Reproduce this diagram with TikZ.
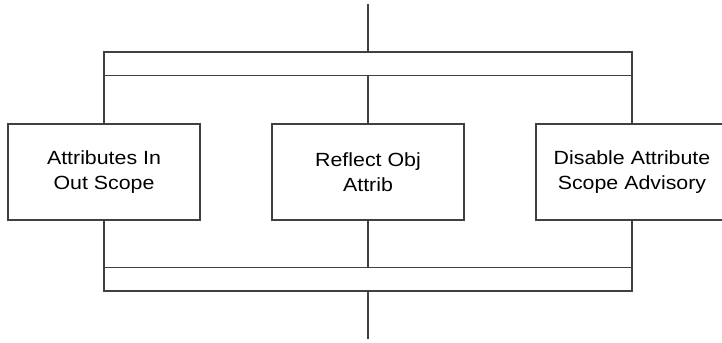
\documentclass[tikz,border=0pt]{standalone}
\usepackage{fontspec}
\setmainfont{Liberation Sans}
\newfontfamily\boxfont[FakeStretch=1.12]{Liberation Sans}
\definecolor{linec}{HTML}{404040}
\tikzset{
  wire/.style={draw=linec, line width=0.8pt},
  stepbox/.style={draw=linec, line width=0.8pt, minimum width=144pt, minimum height=72pt,
    inner sep=0pt, align=center, font=\boxfont\fontsize{14.3}{18.75}\selectfont},
  barbox/.style={draw=linec, line width=0.8pt, minimum width=396pt, minimum height=17.6pt, inner sep=0pt}
}
\begin{document}
\begin{tikzpicture}[x=0.75pt,y=-0.75pt]
\useasboundingbox (0,0) rectangle (722,343);
\clip (0,0) rectangle (722,343);
\coordinate (topend) at (368,4);
\coordinate (botend) at (368,339);
\node[barbox] (topbar) at (368,63.75) {};
\node[barbox] (botbar) at (368,279.25) {};
\node[stepbox] (a) at (104,172) {Attributes In\\Out Scope};
\node[stepbox] (b) at (368,172) {Reflect Obj\\Attrib};
\node[stepbox] (c) at (632,172) {Disable Attribute\\Scope Advisory};
\draw[wire] (topend) -- (topbar.north);
\draw[wire] (topbar.south -| a.north) -- (a.north);
\draw[wire] (topbar.south -| b.north) -- (b.north);
\draw[wire] (topbar.south -| c.north) -- (c.north);
\draw[wire] (a.south) -- (botbar.north -| a.south);
\draw[wire] (b.south) -- (botbar.north -| b.south);
\draw[wire] (c.south) -- (botbar.north -| c.south);
\draw[wire] (botbar.south) -- (botend);
\end{tikzpicture}
\end{document}
